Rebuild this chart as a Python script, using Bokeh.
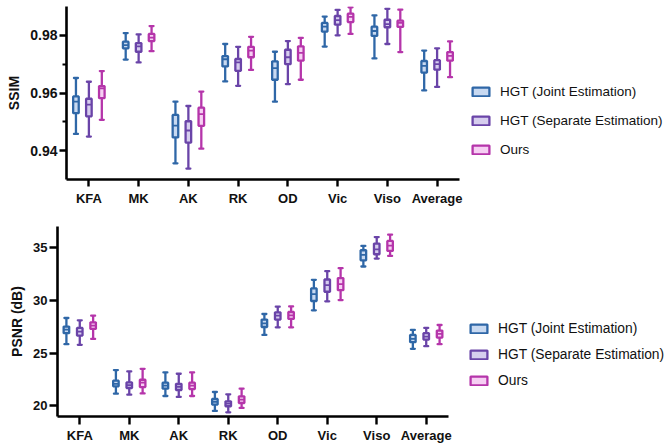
from bokeh.plotting import figure
from bokeh.models import (ColumnDataSource, Range1d, FixedTicker, Legend, LegendItem)
from bokeh.layouts import column, row
from bokeh.embed import file_html
from bokeh.resources import INLINE

categories = ["KFA", "MK", "AK", "RK", "OD", "Vic", "Viso", "Average"]
methods = ["HGT (Joint Estimation)", "HGT (Separate Estimation)", "Ours"]

# (lower whisker, q1, median, q3, upper whisker) per category
ssim_joint = [(0.9458, 0.9530, 0.9570, 0.9588, 0.9652), (0.9716, 0.9755, 0.9766, 0.9778, 0.9808),
              (0.9356, 0.9446, 0.9487, 0.9524, 0.9570), (0.9640, 0.9692, 0.9717, 0.9728, 0.9770),
              (0.9570, 0.9646, 0.9686, 0.9710, 0.9743), (0.9761, 0.9813, 0.9830, 0.9843, 0.9865),
              (0.9720, 0.9798, 0.9815, 0.9830, 0.9869), (0.9609, 0.9671, 0.9694, 0.9711, 0.9747)]
ssim_separate = [(0.9449, 0.9519, 0.9560, 0.9580, 0.9639), (0.9706, 0.9743, 0.9762, 0.9773, 0.9803),
                 (0.9338, 0.9428, 0.9470, 0.9502, 0.9555), (0.9625, 0.9677, 0.9706, 0.9718, 0.9760),
                 (0.9631, 0.9700, 0.9724, 0.9750, 0.9780), (0.9800, 0.9837, 0.9853, 0.9867, 0.9888),
                 (0.9770, 0.9828, 0.9839, 0.9854, 0.9892), (0.9621, 0.9681, 0.9700, 0.9714, 0.9755)]
ssim_ours = [(0.9507, 0.9582, 0.9616, 0.9624, 0.9676), (0.9745, 0.9780, 0.9792, 0.9805, 0.9832),
             (0.9407, 0.9486, 0.9527, 0.9549, 0.9605), (0.9680, 0.9724, 0.9747, 0.9760, 0.9795),
             (0.9646, 0.9712, 0.9739, 0.9762, 0.9791), (0.9805, 0.9846, 0.9864, 0.9875, 0.9897),
             (0.9742, 0.9829, 0.9843, 0.9851, 0.9889), (0.9655, 0.9712, 0.9729, 0.9742, 0.9779)]

psnr_joint = [(25.85, 26.89, 27.23, 27.52, 28.33), (21.16, 21.86, 22.10, 22.39, 23.40),
              (20.94, 21.64, 21.92, 22.20, 23.18), (19.53, 20.13, 20.38, 20.66, 21.32),
              (26.73, 27.48, 27.83, 28.18, 28.71), (29.06, 29.94, 30.60, 31.13, 31.95),
              (33.21, 33.80, 34.31, 34.75, 35.16), (25.41, 26.04, 26.35, 26.73, 27.20)]
psnr_separate = [(25.79, 26.67, 27.04, 27.39, 28.11), (21.07, 21.70, 21.98, 22.23, 23.27),
                 (20.85, 21.51, 21.82, 22.10, 23.05), (19.40, 19.97, 20.22, 20.44, 21.10),
                 (27.45, 28.18, 28.55, 28.87, 29.40), (29.91, 30.82, 31.45, 31.98, 32.77),
                 (33.96, 34.37, 34.84, 35.38, 36.00), (25.66, 26.29, 26.57, 26.89, 27.39)]
psnr_ours = [(26.35, 27.30, 27.61, 27.92, 28.55), (21.19, 21.79, 22.20, 22.48, 23.52),
             (20.94, 21.60, 21.92, 22.20, 23.18), (19.81, 20.28, 20.60, 20.91, 21.64),
             (27.45, 28.24, 28.58, 28.90, 29.43), (30.03, 30.97, 31.54, 32.11, 33.05),
             (34.21, 34.69, 35.19, 35.63, 36.23), (25.85, 26.48, 26.82, 27.14, 27.67)]

line_colors = ["#2f67a7", "#6a44a8", "#b535aa"]
fill_colors = ["#c8d9f1", "#d6cdee", "#f6cff3"]

FONT = "Liberation Sans"
LW = 2.3
PAD_R = 4
NAN = float("nan")


def make_fig(series, y_range, y_ticks, y_minor, y_label, height, frame_left, frame_right,
             top_border, bottom_border, offset, ytick_size, tick_len, xlabel_standoff):
    p = figure(width=frame_right + PAD_R, height=height, output_backend="svg",
               toolbar_location=None,
               x_range=Range1d(-0.45, 7.45), y_range=y_range,
               min_border_left=frame_left, min_border_right=PAD_R,
               min_border_top=top_border, min_border_bottom=bottom_border)
    p.outline_line_color = None
    p.xgrid.visible = False
    p.ygrid.visible = False
    p.background_fill_color = "white"
    p.border_fill_color = "white"

    half_box = 0.056
    half_cap = 0.04
    for k, data in enumerate(series):
        xs = [i + (k - 1) * offset for i in range(len(categories))]
        lo = [d[0] for d in data]
        q1 = [d[1] for d in data]
        med = [d[2] for d in data]
        q3 = [d[3] for d in data]
        hi = [d[4] for d in data]
        src = ColumnDataSource(dict(
            x=xs, lo=lo, q1=q1, med=med, q3=q3, hi=hi,
            left=[x - half_box for x in xs], right=[x + half_box for x in xs],
            cl=[x - half_cap for x in xs], cr=[x + half_cap for x in xs]))
        lc, fc = line_colors[k], fill_colors[k]
        p.segment(x0="x", y0="lo", x1="x", y1="hi", source=src, line_color=lc, line_width=LW)
        p.segment(x0="cl", y0="lo", x1="cr", y1="lo", source=src, line_color=lc, line_width=LW,
                  line_cap="round")
        p.segment(x0="cl", y0="hi", x1="cr", y1="hi", source=src, line_color=lc, line_width=LW,
                  line_cap="round")
        p.quad(left="left", right="right", bottom="q1", top="q3", source=src,
               fill_color=fc, line_color=lc, line_width=LW)
        p.segment(x0="left", y0="med", x1="right", y1="med", source=src, line_color=lc,
                  line_width=1.8)

    xa = p.xaxis[0]
    xa.ticker = FixedTicker(ticks=list(range(len(categories))))
    xa.major_label_overrides = {i: c for i, c in enumerate(categories)}
    ya = p.yaxis[0]
    ya.ticker = FixedTicker(ticks=y_ticks, minor_ticks=y_minor)
    ya.axis_label = y_label
    for ax in (xa, ya):
        ax.axis_line_width = 2.6
        ax.axis_line_color = "black"
        ax.major_tick_line_width = 2.4
        ax.major_tick_line_color = "black"
        ax.minor_tick_line_width = 2.0
        ax.minor_tick_line_color = "black"
        ax.major_tick_in = 0
        ax.major_tick_out = tick_len
        ax.minor_tick_in = 0
        ax.minor_tick_out = 4
        ax.major_label_text_font = FONT
        ax.major_label_text_font_style = "bold"
        ax.major_label_text_color = "#111111"
        ax.axis_label_text_font = FONT
        ax.axis_label_text_font_style = "bold"
        ax.axis_label_text_font_size = "14px"
        ax.axis_label_text_color = "#111111"
    xa.minor_tick_out = 0
    xa.major_label_text_font_size = "13px"
    xa.major_label_standoff = xlabel_standoff
    ya.major_label_text_font_size = ytick_size
    ya.major_label_standoff = 2
    ya.axis_label_standoff = 5
    return p


def make_legend_fig(width, height, loc, spacing, font_size):
    lf = figure(width=width, height=height, output_backend="svg", toolbar_location=None,
                x_axis_type=None, y_axis_type=None, min_border=0,
                x_range=Range1d(0, 1), y_range=Range1d(0, 1))
    lf.outline_line_color = None
    lf.xgrid.visible = False
    lf.ygrid.visible = False
    items = []
    for k, name in enumerate(methods):
        # legend proxy: one undrawn (NaN) quad carrying the series style
        r = lf.quad(left=[NAN], right=[NAN], bottom=[NAN], top=[NAN], fill_color=fill_colors[k],
                    line_color=line_colors[k], line_width=LW)
        items.append(LegendItem(label=name, renderers=[r]))
    legend = Legend(items=items, location=loc, border_line_color=None,
                    background_fill_alpha=0, padding=0, margin=0, spacing=spacing,
                    glyph_width=21, glyph_height=11, label_standoff=9,
                    label_text_font=FONT, label_text_font_size=font_size,
                    label_text_color="#111111", label_height=15)
    lf.add_layout(legend, "center")
    return lf


p1 = make_fig([ssim_joint, ssim_separate, ssim_ours], Range1d(0.930, 0.990),
              [0.94, 0.96, 0.98], [0.95, 0.97], "SSIM", 220, 66, 459, 6, 41, 0.26,
              "14px", 7, 4)
p2 = make_fig([psnr_joint, psnr_separate, psnr_ours], Range1d(19, 37),
              [20, 25, 30, 35], [], "PSNR (dB)", 225, 57, 448, 6, 28, 0.27,
              "13px", 8, 3)
l1 = make_legend_fig(668 - (459 + PAD_R), 220, (7, 22), 14, "13.5px")
l2 = make_legend_fig(668 - (448 + PAD_R), 225, (16, 28), 11, "13.8px")

layout = column(row(p1, l1, spacing=0), row(p2, l2, spacing=0), spacing=0)
open("out.html", "w").write(file_html(layout, INLINE))
